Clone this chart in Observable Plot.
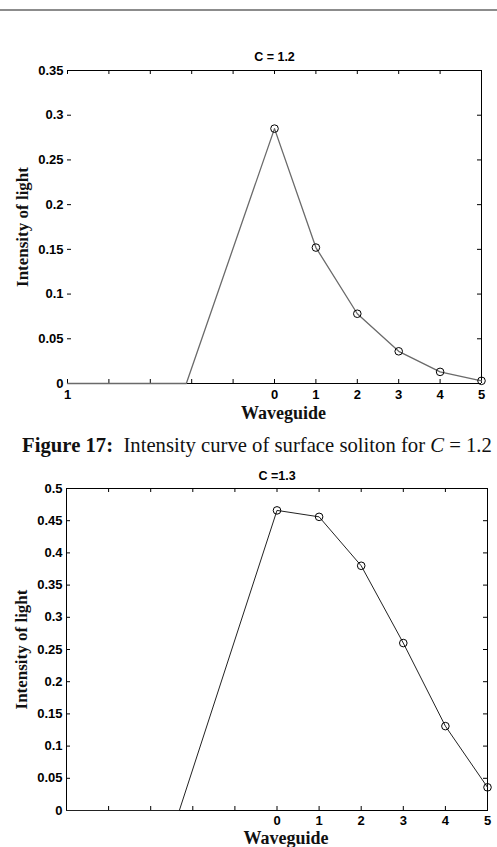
<!DOCTYPE html>
<html>
<head>
<meta charset="utf-8">
<script src="https://cdn.jsdelivr.net/npm/d3@7"></script>
<script src="https://cdn.jsdelivr.net/npm/@observablehq/plot@0.6"></script>
<style>
  body { margin: 0; background: #fff; width: 497px; height: 847px; position: relative; overflow: hidden; }
  #rule { position: absolute; left: 0; top: 9px; width: 497px; height: 2px; background: #8c8c8c; }
  .fig { position: absolute; left: 0; }
  #caption {
    position: absolute; left: 0; top: 433px; width: 497px; text-align: center; box-sizing: border-box; padding-left: 17px;
    font-family: "Liberation Serif", "Times New Roman", serif; font-size: 20.7px; line-height: 24px;
    color: #111; white-space: nowrap;
  }
</style>
</head>
<body>
<div id="rule"></div>
<div id="fig1" class="fig" style="top:20px"></div>
<div id="caption"><b>Figure 17:</b>&nbsp; Intensity curve of surface soliton for <i>C</i> = 1.2</div>
<div id="fig2" class="fig" style="top:458px"></div>
<script>
// Waveguide index positions and tick labels on the x axis
const xTicks = [-5, -4, -3, -2, -1, 0, 1, 2, 3, 4, 5];
const xTickLabels12 = ["1", "", "", "", "", "0", "1", "2", "3", "4", "5"];
const xTickLabels13 = ["", "", "", "", "", "0", "1", "2", "3", "4", "5"];

// Waveguides carrying a computed intensity
const guides = [0, 1, 2, 3, 4, 5];

// C = 1.2
const intensity12 = [0.285, 0.152, 0.078, 0.036, 0.013, 0.003];
const leadX12 = [-5, -2.13];
const leadI12 = [0, 0];
const yTicks12 = [0, 0.05, 0.1, 0.15, 0.2, 0.25, 0.3, 0.35];

// C = 1.3
const intensity13 = [0.466, 0.456, 0.380, 0.260, 0.131, 0.036];
const leadX13 = [-5, -2.32];
const leadI13 = [0, 0];
const yTicks13 = [0, 0.05, 0.1, 0.15, 0.2, 0.25, 0.3, 0.35, 0.4, 0.45, 0.5];

const serif = "'Liberation Serif', 'Times New Roman', serif";

function solitonPlot({title, tickLabels, yTicks, leadX, leadI, values, lineColor, lineWidth,
                      leftBorder, marginLeft, marginRight, marginTop, marginBottom, height,
                      xPad, xLabelDy, titleDy}) {
  const width = 497;
  const frameW = width - marginLeft - marginRight;
  const frameH = height - marginTop - marginBottom;
  const yMax = yTicks[yTicks.length - 1];
  const labelOf = new Map(xTicks.map((t, i) => [t, tickLabels[i]]));
  const curve = leadX.map((x, i) => ({x, y: leadI[i]}))
    .concat(guides.map((x, i) => ({x, y: values[i]})));
  const points = guides.map((x, i) => ({x, y: values[i]}));

  const border = leftBorder
    ? [Plot.frame({stroke: "#000"})]
    : [Plot.ruleY([yMax], {stroke: "#000"}), Plot.ruleY([0], {stroke: "#000"}), Plot.ruleX([5], {stroke: "#000"})];

  return Plot.plot({
    width, height, marginLeft, marginRight, marginTop, marginBottom,
    x: {domain: [-5, 5]},
    y: {domain: [0, yMax]},
    style: {fontFamily: "'Liberation Sans', Arial, sans-serif", fontSize: "13px", fontWeight: "bold", color: "#000", background: "#fff", overflow: "visible"},
    marks: [
      // inward ticks on all four sides
      Plot.tickY(yTicks, {insetRight: frameW - 4, stroke: "#000"}),
      Plot.tickY(yTicks, {insetLeft: frameW - 4, stroke: "#000"}),
      Plot.tickX(xTicks, {insetBottom: frameH - 4, stroke: "#000"}),
      Plot.tickX(xTicks, {insetTop: frameH - 4, stroke: "#000"}),
      Plot.axisY(yTicks, {tickSize: 0, tickPadding: 4, tickFormat: d => String(d), label: null}),
      Plot.axisX(xTicks, {tickSize: 0, tickPadding: xPad, tickFormat: d => labelOf.get(d), label: null}),
      ...border,
      Plot.line(curve, {x: "x", y: "y", stroke: lineColor, strokeWidth: lineWidth}),
      Plot.dot(points, {x: "x", y: "y", r: 3.8, stroke: "#000", fill: "none", strokeWidth: 1}),
      Plot.text([title], {text: d => d, frameAnchor: "top", lineAnchor: "middle", dy: titleDy, fontSize: 12.5, fontWeight: "bold"}),
      Plot.text(["Intensity of light"], {text: d => d, frameAnchor: "left", textAnchor: "middle", lineAnchor: "middle",
        rotate: -90, dx: -45, fontFamily: serif, fontSize: 17, fontWeight: "bold", fill: "#111"}),
      Plot.text(["Waveguide"], {text: d => d, frameAnchor: "bottom", textAnchor: "middle", lineAnchor: "middle",
        dx: 9, dy: xLabelDy, fontFamily: serif, fontSize: 18, fontWeight: "bold", fill: "#111"})
    ]
  });
}

document.getElementById("fig1").append(solitonPlot({
  title: "C = 1.2", tickLabels: xTickLabels12, yTicks: yTicks12,
  leadX: leadX12, leadI: leadI12, values: intensity12,
  lineColor: "#6a6a6a", lineWidth: 1.3, leftBorder: false,
  marginLeft: 67, marginRight: 16, marginTop: 50, marginBottom: 42, height: 405,
  xPad: 6, xLabelDy: 30, titleDy: -14
}));

document.getElementById("fig2").append(solitonPlot({
  title: "C =1.3", tickLabels: xTickLabels13, yTicks: yTicks13,
  leadX: leadX13, leadI: leadI13, values: intensity13,
  lineColor: "#222", lineWidth: 1, leftBorder: true,
  marginLeft: 66, marginRight: 10, marginTop: 30, marginBottom: 37, height: 389,
  xPad: 5, xLabelDy: 28, titleDy: -13
}));
</script>
</body>
</html>
